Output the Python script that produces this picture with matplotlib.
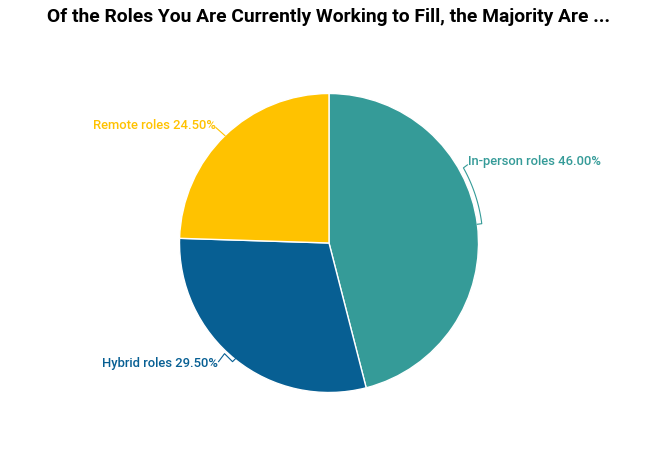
import numpy as np
import matplotlib.pyplot as plt

categories = ["In-person roles", "Hybrid roles", "Remote roles"]
shares = [46.0, 29.5, 24.5]
colors = ["#359B98", "#075F93", "#FFC200"]
title = "Of the Roles You Are Currently Working to Fill, the Majority Are ..."

W, H = 658, 465
plt.rcParams['font.family'] = ['Roboto', 'DejaVu Sans']

fig = plt.figure(figsize=(W / 100, H / 100), dpi=100)
ax = fig.add_axes([0, 0, 1, 1])

cx, cy, R = 329, H - 243, 149.5
wedges, _ = ax.pie(shares, colors=colors, startangle=90, counterclock=False,
                   center=(cx, cy), radius=R,
                   wedgeprops=dict(edgecolor="white", linewidth=1))
ax.set_xlim(0, W)
ax.set_ylim(0, H)
ax.set_aspect("equal")
ax.axis("off")


def pt(ang, r):
    a = np.deg2rad(ang)
    return cx + r * np.cos(a), cy + r * np.sin(a)


mids = [(w.theta1 + w.theta2) / 2 for w in wedges]
lab_kw = dict(fontsize=9.4, fontweight="medium", va="center")

# In-person: bracket along the arc
m = mids[0]
angs = np.linspace(m, m + 22, 40)
xs, ys = pt(angs, R * 1.03)
x0, y0 = pt(m, R * 1.0)
x1, y1 = pt(m + 22, R * 1.03)
ax.plot(np.r_[x0, xs, x1 + 4], np.r_[y0, ys, y1 + 3], color=colors[0], lw=0.8)
ax.text(x1 + 5, y1 + 6, f"{categories[0]} {shares[0]:.2f}%", color=colors[0],
        ha="left", **lab_kw)

# Hybrid: small zig-zag connector
m = mids[1]
xe, ye = pt(m, R * 1.0)
ax.plot([xe - 17, xe - 11, xe - 3, xe], [ye - 2, ye + 6, ye - 2, ye + 1],
        color=colors[1], lw=0.8)
ax.text(xe - 18, ye - 4, f"{categories[1]} {shares[1]:.2f}%", color=colors[1],
        ha="right", **lab_kw)

# Remote: short straight connector
m = mids[2]
xe, ye = pt(m, R * 1.0)
ax.plot([xe - 9, xe], [ye + 8, ye], color=colors[2], lw=0.8)
ax.text(xe - 9, ye + 10, f"{categories[2]} {shares[2]:.2f}%", color=colors[2],
        ha="right", **lab_kw)

fig.text(0.5, 1 - 17 / H, title, ha="center", va="center",
         fontsize=13.9, fontweight="bold", color="black")

fig.savefig("out.png", dpi=100)
